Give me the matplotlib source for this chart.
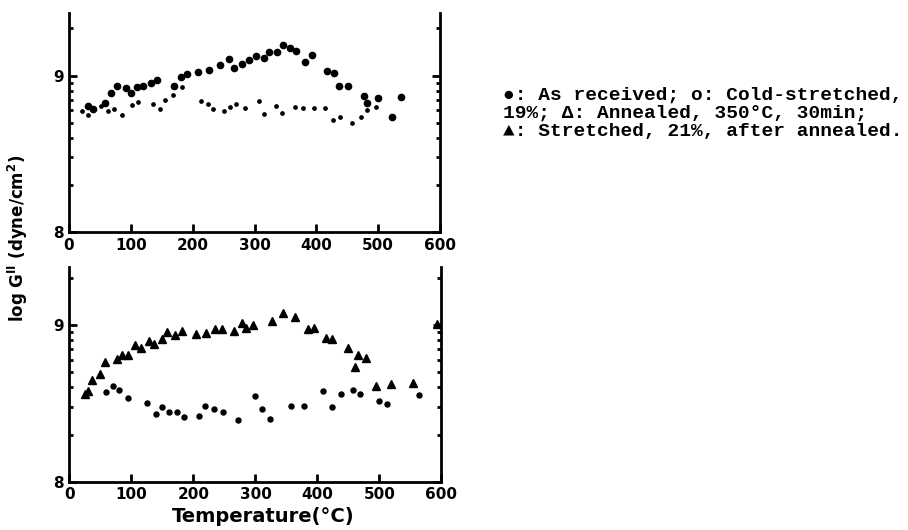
import numpy as np
import matplotlib
matplotlib.use("Agg")
import matplotlib.pyplot as plt

# log G'' vs temperature, upper panel: as received / cold-stretched
recv_T = [30, 39, 59, 68, 78, 92, 101, 110, 120, 132, 142, 169, 181, 191, 209, 227,
          244, 258, 267, 280, 291, 302, 315, 323, 336, 346, 357, 367, 382, 393, 418,
          428, 437, 451, 477, 482, 499, 522, 537]
recv_G = [8.805, 8.788, 8.822, 8.890, 8.931, 8.920, 8.888, 8.928, 8.933, 8.954, 8.969,
          8.931, 8.988, 9.010, 9.024, 9.033, 9.065, 9.107, 9.048, 9.073, 9.099, 9.123,
          9.112, 9.152, 9.150, 9.193, 9.176, 9.158, 9.084, 9.131, 9.027, 9.018, 8.933,
          8.931, 8.869, 8.822, 8.854, 8.733, 8.861]

cold_T = [21, 31, 51, 63, 72, 85, 102, 112, 136, 147, 155, 168, 182, 214, 224, 233,
          251, 260, 270, 285, 307, 316, 335, 345, 366, 378, 397, 414, 427, 438, 458,
          472, 482, 497]
cold_G = [8.775, 8.748, 8.803, 8.775, 8.786, 8.748, 8.812, 8.833, 8.818, 8.788, 8.842,
          8.875, 8.925, 8.839, 8.816, 8.786, 8.771, 8.799, 8.818, 8.792, 8.835, 8.754,
          8.807, 8.760, 8.797, 8.790, 8.790, 8.792, 8.716, 8.733, 8.696, 8.733, 8.780,
          8.799]

# lower panel: stretched after annealing / annealed
str_T = [25, 30, 37, 49, 57, 76, 85, 95, 106, 115, 128, 137, 150, 158, 170, 182, 204,
         221, 235, 246, 266, 279, 285, 296, 326, 344, 363, 384, 395, 414, 424, 449,
         466, 479, 461, 495, 519, 554, 593]
str_G = [8.562, 8.577, 8.647, 8.687, 8.762, 8.785, 8.807, 8.807, 8.872, 8.855, 8.896,
         8.877, 8.913, 8.953, 8.938, 8.962, 8.944, 8.947, 8.976, 8.976, 8.964, 9.015,
         8.979, 9.002, 9.026, 9.077, 9.051, 8.974, 8.981, 8.917, 8.913, 8.853, 8.809,
         8.787, 8.730, 8.609, 8.625, 8.628, 9.006]

ann_T = [59, 71, 80, 94, 125, 140, 150, 161, 173, 185, 209, 219, 233, 247, 272, 300,
         311, 323, 358, 379, 409, 423, 438, 457, 469, 499, 512, 564]
ann_G = [8.571, 8.611, 8.587, 8.534, 8.502, 8.432, 8.477, 8.445, 8.445, 8.413, 8.421,
         8.485, 8.462, 8.443, 8.392, 8.549, 8.464, 8.398, 8.485, 8.486, 8.582, 8.475,
         8.558, 8.586, 8.561, 8.516, 8.493, 8.556]

x_ticks = [0, 100, 200, 300, 400, 500, 600]
y_ticks = [8, 9]
y_minor = [8 + np.log10(k) for k in range(2, 10)] + [9 + np.log10(2)]

plt.rcParams['font.family'] = ['DejaVu Sans']
plt.rcParams['font.weight'] = 'bold'

fig = plt.figure(figsize=(9.08, 5.30), dpi=100)
ax1 = fig.add_axes([0.076, 0.5623, 0.4086, 0.4132])
ax2 = fig.add_axes([0.0765, 0.0911, 0.4097, 0.4051])


def style(ax, ytop):
    ax.set_xlim(0, 600)
    ax.set_ylim(8, ytop)
    ax.spines['top'].set_visible(False)
    for s in ['left', 'right', 'bottom']:
        ax.spines[s].set_linewidth(2.0)
    ax.set_xticks(x_ticks)
    ax.set_yticks(y_ticks)
    ax.set_yticks(y_minor, minor=True)
    ax.tick_params(axis='both', which='major', direction='in', length=6, width=2,
                   labelsize=11, pad=4)
    ax.tick_params(axis='y', which='both', right=True, direction='in')
    ax.tick_params(axis='y', which='minor', length=3, width=2)
    ax.tick_params(axis='x', which='both', top=False)
    for lab in ax.get_xticklabels() + ax.get_yticklabels():
        lab.set_fontweight('bold')


ax1.plot(recv_T, recv_G, 'o', color='black', markersize=4.5, linestyle='none')
ax1.plot(cold_T, cold_G, 'o', color='black', markersize=2.4, linestyle='none')
style(ax1, 9.40)

ax2.plot(str_T, str_G, '^', color='black', markersize=6.0, linestyle='none')
ax2.plot(ann_T, ann_G, 'o', color='black', markersize=3.6, linestyle='none')
style(ax2, 9.37)

fig.text(0.02, 0.55, "log G$^{\\mathbf{II}}$ (dyne/cm$^{\\mathbf{2}}$)", rotation=90,
         ha='center', va='center', fontsize=12, fontweight='bold')
fig.text(0.29, 0.026, "Temperature(°C)", ha='center', va='center',
         fontsize=14, fontweight='bold')

mono = ['Liberation Mono', 'DejaVu Sans Mono', 'DejaVu Sans']
legend_lines = ["●: As received; o: Cold-stretched,",
                "19%; Δ: Annealed, 350°C, 30min;",
                "▲: Stretched, 21%, after annealed."]
for i, line in enumerate(legend_lines):
    fig.text(503 / 908, 1 - (95 + 18.5 * i) / 530, line, ha='left', va='center',
             fontsize=14, family=mono, fontweight='bold')

fig.savefig("out.png", dpi=100)
